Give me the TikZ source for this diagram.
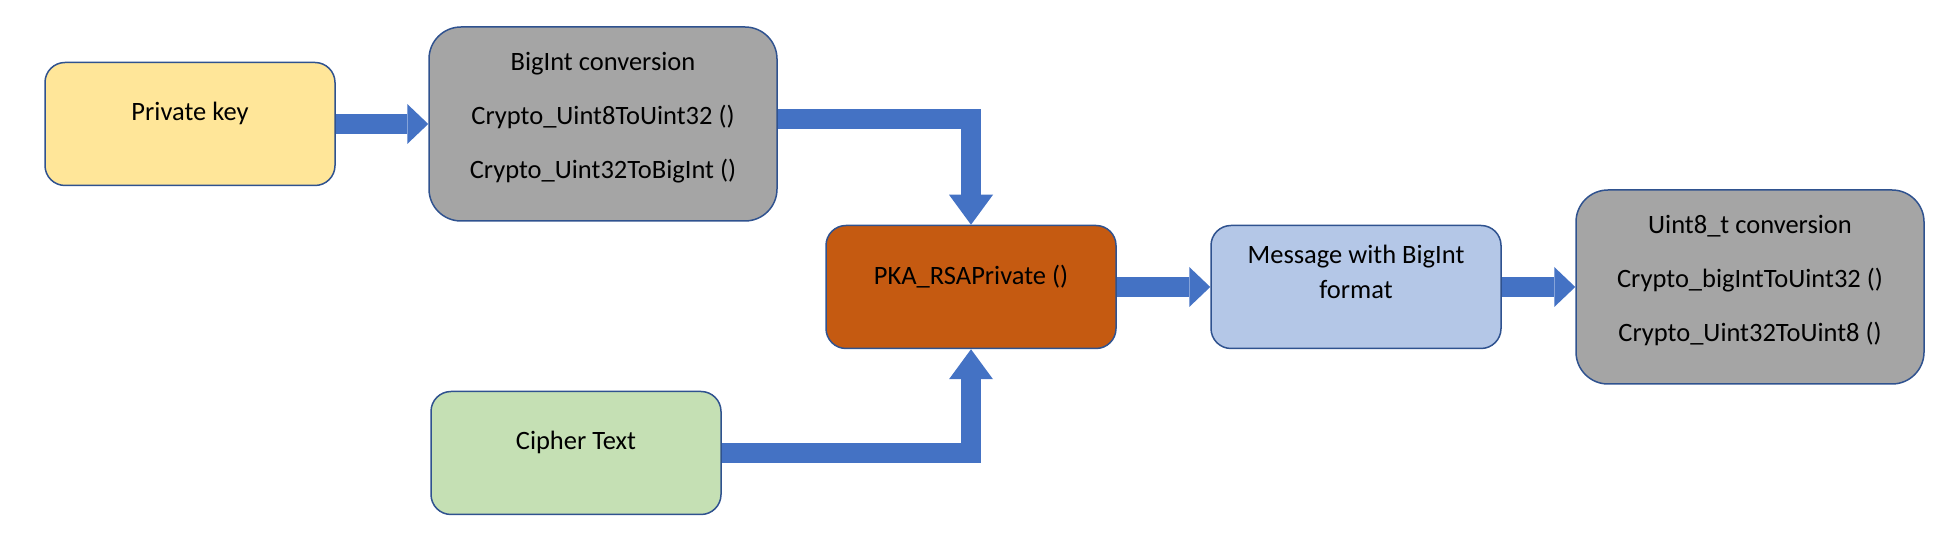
\documentclass[tikz,border=0pt]{standalone}
\usepackage{fontspec}
\setmainfont{Carlito}
\usepackage{xcolor}
\usepackage{tikz}
\usetikzlibrary{shapes,arrows.meta,positioning}

\definecolor{edgeblue}{HTML}{2F528F}
\definecolor{flowblue}{HTML}{4472C4}
\definecolor{keyyellow}{HTML}{FFE699}
\definecolor{convgray}{HTML}{A5A5A5}
\definecolor{pkaorange}{HTML}{C55A11}
\definecolor{msgblue}{HTML}{B4C7E7}
\definecolor{ciphergreen}{HTML}{C5E0B4}

\begin{document}
\begin{tikzpicture}[x=1pt, y=1pt, node distance=385pt, on grid]
        \tikzstyle{block} = [rectangle, draw=edgeblue, line width=1.5pt, inner sep=0pt,
            minimum width=290pt, minimum height=123pt, rounded corners=20pt,
            align=center, text depth=25pt, font=\fontsize{26.5}{32}\selectfont]
        \tikzstyle{bigblock} = [block, minimum width=348pt, minimum height=194pt,
            rounded corners=32pt, text depth=17pt]
        \tikzstyle{line} = [draw=flowblue, line width=20pt,
            -{Triangle[width=40pt, length=21pt, line width=0pt]}]
        \tikzstyle{downline} = [line, -{Triangle[width=44pt, length=30pt, line width=0pt]}]

        \useasboundingbox (0,0) rectangle (1958,553);

        \node [block, fill=pkaorange] (pka) at (971,266) {PKA\_RSAPrivate ()};
        \node [block, fill=msgblue, right=of pka, text depth=30pt] (msg) {Message with BigInt\\[3pt]format};
        \node [bigblock, fill=convgray, right=394pt of msg] (uint) {Uint8\_t conversion\\[22pt]Crypto\_bigIntToUint32 ()\\[22pt]Crypto\_Uint32ToUint8 ()};
        \node [bigblock, fill=convgray, above left=163pt and 368pt of pka] (bigint) {BigInt conversion\\[22pt]Crypto\_Uint8ToUint32 ()\\[22pt]Crypto\_Uint32ToBigInt ()};
        \node [block, fill=keyyellow, left=413pt of bigint] (key) {Private key};
        \node [block, fill=ciphergreen, below left=166pt and 395pt of pka] (cipher) {Cipher Text};

        \path [line] (key.east) -- (key.east -| bigint.west);
        \path [downline] ([yshift=5pt]bigint.east) -| (pka.north);
        \path [downline] (cipher.east) -| (pka.south);
        \path [line] (pka.east) -- (msg.west);
        \path [line] (msg.east) -- (uint.west);
\end{tikzpicture}
\end{document}
